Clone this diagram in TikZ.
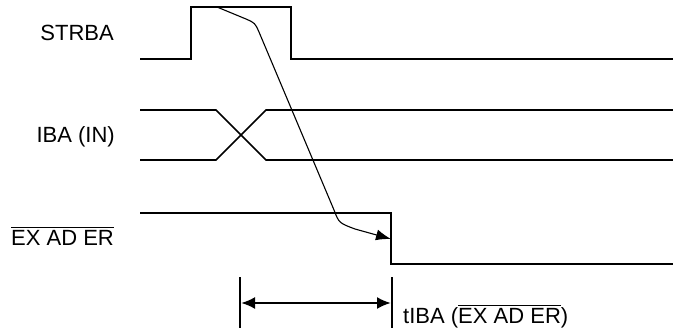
\documentclass[tikz,border=0pt]{standalone}
\usepackage{fontspec}
\setmainfont{Liberation Sans}
\usetikzlibrary{arrows.meta}
\newcommand{\ovl}[1]{\ensuremath{\overline{\vphantom{\rule{0pt}{16.5pt}}\mbox{#1}}}}
\begin{document}
\begin{tikzpicture}[x=1pt,y=-1pt,
  wave/.style={line width=1.7pt, line join=miter},
  lbl/.style={font=\fontsize{22}{25}\selectfont, inner sep=0pt},
  delay/.style={line width=1.1pt, -{Latex[length=15pt,width=11pt]}},
  dim/.style={line width=2.2pt, {Latex[length=14pt,width=12pt]}-{Latex[length=14pt,width=12pt]}},
  tick/.style={line width=1.3pt}]
\useasboundingbox (0,0) rectangle (673,335);
% labels
\node[lbl, anchor=base east] (strba) at (114,40) {STRBA};
\node[lbl, anchor=base east] (iba) at (115,142) {IBA (IN)};
\node[lbl, anchor=base west] (exader) at (11,245) {\ovl{EX AD ER}};
\node[lbl, anchor=base west] (tiba) at (403,323) {tIBA (\ovl{EX AD ER})};
% STRBA
\draw[wave] (140,59) -- (191,59) -- (191,7) -- (291,7) -- (291,59) -- (673,59);
% IBA
\draw[wave] (140,110) -- (216,110) -- (266,160) -- (673,160);
\draw[wave] (140,160) -- (216,160) -- (266,110) -- (673,110);
% EXADER
\draw[wave] (140,213) -- (391,213) -- (391,264) -- (673,264);
% delay curve
\coordinate (c0) at (217,7);
\coordinate (c1) at (391,239);
\draw[delay] (c0) -- (246,19) .. controls (255,23) .. (259,32) -- (334,210) .. controls (339,223) .. (355,229) -- (c1);
% dimension
\coordinate (l0) at (240,277);
\coordinate (l1) at (240,328);
\coordinate (r0) at (392,277);
\coordinate (r1) at (392,328);
\draw[tick] (l0) -- (l1);
\draw[tick] (r0) -- (r1);
\coordinate (a0) at (241,303);
\coordinate (a1) at (391,303);
\draw[dim] (a0) -- (a1);
\end{tikzpicture}
\end{document}
